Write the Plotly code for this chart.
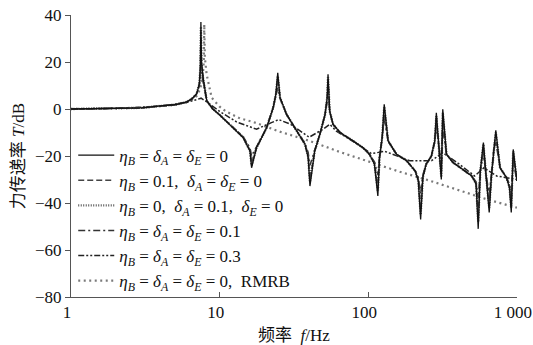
import plotly.graph_objects as go

# ---------------- data ----------------
freq = [1, 2, 3, 4, 5, 6, 6.5, 7, 7.3, 7.42, 7.48, 7.55, 7.75, 8.2, 9, 10, 11.7, 14.4, 16.0, 16.4,
        17.7, 20.7, 22.9, 23.9, 24.6, 25.5, 28.2, 32.9, 37.5, 39.4, 40.5, 43.6, 47.2, 51.2, 52.9, 53.6,
        55, 57.9, 64.5, 79, 92.3, 102, 110, 116, 119, 124, 128, 136, 155, 181, 207, 217, 225, 233,
        245, 266, 280, 287, 299, 310, 317, 336, 372, 434, 497, 531, 549, 567, 595, 619, 651, 675,
        700, 721, 770, 851, 891, 916, 944, 1000]

T_undamped = [0, 0.2, 0.5, 1.3, 1.8, 3, 4.3, 6.4, 10.6, 18, 37, 20, 13, 3.4, 0, -2.5, -6.5, -12.2, -18, -25,
              -16.5, -8, 0.5, 6.4, 15.4, 4.8, -2.3, -9.4, -15, -20.7, -32.8, -17.9, -10.8, -2.3, 4.8, 14.8,
              -0.9, -6.5, -10, -13.6, -16.5, -19.3, -23.5, -37, -20.7, -12.2, 2, -13.6, -19.3, -22, -26.4, -30.6, -47, -29,
              -23.5, -20, -13.6, -1.6, -16.5, -30, -0.1, -19.3, -22.8, -25.7, -28.5, -32, -51, -26.4, -14.3, -27.8, -44, -27.8,
              -16.5, -9.1, -25, -29.2, -33.5, -44, -17.2, -30.6]

T_etaB01 = [0, 0.2, 0.5, 1.3, 1.8, 3, 4.3, 6.4, 10.6, 17, 33, 19, 12.5, 3.4, 0, -2.5, -6.5, -12, -17.5, -23,
            -16.5, -8, 0.5, 6, 13, 4.8, -2.3, -9.4, -15, -20, -30, -17.9, -10.8, -2.3, 4.5, 12.5,
            -0.9, -6.5, -10, -13.6, -16.5, -19.3, -23, -34, -20.7, -12.2, 0, -13.6, -19.3, -22, -26.4, -30, -43, -29,
            -23.5, -20, -13.6, -4, -16.5, -28, -3, -19.3, -22.8, -25.7, -28.5, -31.5, -46, -26.4, -16, -27.8, -41, -27.8,
            -16.5, -11, -25, -29.2, -33, -41, -19, -30.6]

T_deltaA01 = [0, 0.2, 0.5, 1.3, 1.8, 3, 4.3, 6.4, 10.6, 17.5, 35, 19.5, 12.8, 3.4, 0, -2.5, -6.5, -12, -17.8, -24,
              -16.5, -8, 0.5, 6.2, 14, 4.8, -2.3, -9.4, -15, -20.3, -31, -17.9, -10.8, -2.3, 4.6, 13.5,
              -0.9, -6.5, -10, -13.6, -16.5, -19.3, -23.2, -35, -20.7, -12.2, 1, -13.6, -19.3, -22, -26.4, -30.3, -45, -29,
              -23.5, -20, -13.6, -3, -16.5, -29, -1.5, -19.3, -22.8, -25.7, -28.5, -31.8, -48, -26.4, -15, -27.8, -42, -27.8,
              -16.5, -10, -25, -29.2, -33.2, -42, -18, -30.6]

T_all01 = [0, 0.2, 0.5, 1.3, 1.8, 3, 4.3, 6.3, 10, 14, 24, 15, 11, 3.3, 0, -2.5, -6.5, -11.8, -16.5, -20,
           -16, -8, 0.4, 5, 9, 4.5, -2.3, -9.4, -14.5, -18.5, -24, -17.5, -10.8, -2.5, 3, 8,
           -1, -6.5, -10, -13.6, -16.5, -19.3, -22.5, -28, -20.7, -12.5, -4, -13.8, -19.3, -22, -26.4, -29, -36, -28,
           -23.5, -20, -14, -7, -16.5, -24, -8, -19.3, -22.8, -25.7, -28.5, -31, -38, -26.4, -19, -27.8, -36, -27.8,
           -17, -14, -25, -29.2, -32, -36, -22, -30.6]

freq_03 = [1, 2, 4, 6, 7, 7.5, 8.2, 10, 13, 17.7, 22.3, 25, 30, 40, 50, 55, 61, 80, 105, 129, 190,
           266, 317, 400, 520, 600, 730, 1000]
T_all03 = [0, 0.2, 1.2, 2.8, 4, 4.6, 3, -1, -5.5, -8.6, -5.8, -4.5, -6.5, -12, -8.5, -6.5, -9.4, -14, -19, -18, -22,
           -22, -18.6, -23, -28.5, -25, -28.5, -30]

freq_rmrb = [1, 3, 5, 6, 6.5, 7, 7.4, 7.7, 7.82, 7.88, 7.95, 8.17, 8.84, 10, 11, 13.7, 16.8, 25, 40, 64.5,
             100, 159, 259, 400, 631, 1000]
T_rmrb = [0, 0.5, 1.8, 3, 4, 5.5, 8.5, 14, 20, 36, 22, 14.8, 4.8, 1, -1, -4, -5.5, -9.5, -13.5, -18.3,
          -22.3, -26.5, -30.5, -34.5, -38.5, -42]

x_tickvals = [1, 10, 100, 1000]
x_ticktext = ["1", "10", "100", "1 000"]
y_tickvals = [-80, -60, -40, -20, 0, 20, 40]
y_ticktext = ["\u221280", "\u221260", "\u221240", "\u221220", "0", "20", "40"]

EQ = "\u2005=\u2005"
CM = ",\u2002"
ETA = "<i>\u03b7</i><sub><i>B</i></sub>"
DA = "<i>\u03b4</i><sub><i>A</i></sub>"
DE = "<i>\u03b4</i><sub><i>E</i></sub>"

names = [
    ETA + EQ + DA + EQ + DE + EQ + "0",
    ETA + EQ + "0.1" + CM + DA + EQ + DE + EQ + "0",
    ETA + EQ + "0" + CM + DA + EQ + "0.1" + CM + DE + EQ + "0",
    ETA + EQ + DA + EQ + DE + EQ + "0.1",
    ETA + EQ + DA + EQ + DE + EQ + "0.3",
    ETA + EQ + DA + EQ + DE + EQ + "0" + CM + "RMRB",
]

SERIF = "Liberation Serif, Times New Roman, serif"
CJK = "Liberation Serif, Noto Sans CJK SC, serif"

fig = go.Figure()
# drawing order: bottom -> top ; legendrank keeps legend order
fig.add_trace(go.Scatter(x=freq_rmrb, y=T_rmrb, mode="lines", name=names[5], legendrank=6,
                         line=dict(color="#7a7a7a", width=2.2, dash="2px,3.5px")))
fig.add_trace(go.Scatter(x=freq_03, y=T_all03, mode="lines", name=names[4], legendrank=5,
                         line=dict(color="#222", width=1.5, dash="6px,2px,2px,2px,2px,2px")))
fig.add_trace(go.Scatter(x=freq, y=T_all01, mode="lines", name=names[3], legendrank=4,
                         line=dict(color="#333", width=1.5, dash="7px,3px,2px,3px")))
fig.add_trace(go.Scatter(x=freq, y=T_deltaA01, mode="lines", name=names[2], legendrank=3,
                         line=dict(color="#555", width=2.4, dash="1px,1.5px")))
fig.add_trace(go.Scatter(x=freq, y=T_etaB01, mode="lines", name=names[1], legendrank=2,
                         line=dict(color="#444", width=1.6, dash="6px,3px")))
fig.add_trace(go.Scatter(x=freq, y=T_undamped, mode="lines", name=names[0], legendrank=1,
                         line=dict(color="#111", width=1.3)))

axis_common = dict(showgrid=False, zeroline=False, showline=True, linecolor="#555", linewidth=1,
                   tickcolor="#555", ticklen=5, tickwidth=1, automargin=False,
                   tickfont=dict(family=SERIF, size=17, color="#111"))

fig.update_layout(
    width=533, height=345,
    margin=dict(l=71, r=16, t=15, b=48),
    paper_bgcolor="white", plot_bgcolor="white",
    showlegend=True,
    legend=dict(x=0.005, y=0.565, xanchor="left", yanchor="top",
                bgcolor="rgba(0,0,0,0)", font=dict(family=SERIF, size=17, color="#111"),
                tracegroupgap=0, itemwidth=36),
    xaxis=dict(type="log", range=[0, 3.0005], tickvals=x_tickvals, ticktext=x_ticktext,
               ticks="inside", ticklabeloverflow="allow", ticklabelshift=-4,
               title=dict(text="频率  <i>f</i>/Hz", font=dict(family=CJK, size=17, color="#111"),
                          standoff=9),
               **axis_common),
    yaxis=dict(range=[-80, 40], tickvals=y_tickvals, ticktext=y_ticktext, ticks="outside",
               title=dict(text="力传递率 <i>T</i>/dB\u2003\u2002", font=dict(family=CJK, size=17, color="#111"),
                          standoff=6),
               **axis_common),
)

fig.write_html("out.html")
